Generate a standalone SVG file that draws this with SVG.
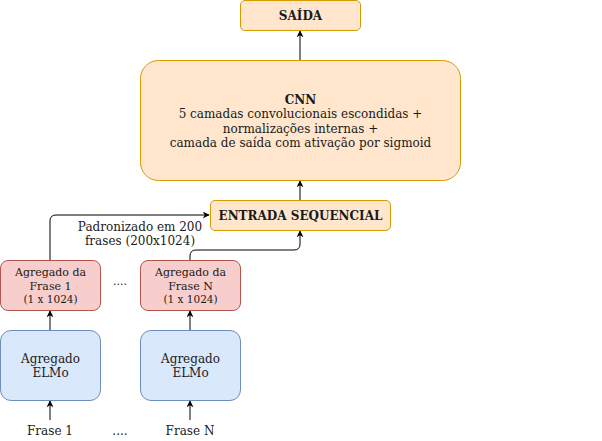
<svg xmlns="http://www.w3.org/2000/svg" width="602" height="441" viewBox="0 0 602 441">
<style>
text{font-family:"DejaVu Serif",serif;fill:#1a1a1a;text-anchor:middle}
.or{fill:#ffe6cc;stroke:#d79b00;stroke-width:1}
.rd{fill:#f8cecc;stroke:#b85450;stroke-width:1}
.bl{fill:#dae8fc;stroke:#6c8ebf;stroke-width:1}
.ln{fill:none;stroke:#000;stroke-width:1;marker-end:url(#ah)}
.b{font-weight:bold}
</style>
<defs>
<marker id="ah" viewBox="0 0 10 10" refX="9" refY="5" markerWidth="7" markerHeight="7" markerUnits="userSpaceOnUse" orient="auto">
<path d="M0,0 L10,5 L0,10 L3,5 Z" fill="#000"/>
</marker>
</defs>
<g id="connectors">
<path class="ln" d="M300,60 V31"/>
<path class="ln" d="M300,200 V181"/>
<path class="ln" d="M50,260 V221 Q50,215 56,215 H209"/>
<path class="ln" d="M190,260 V256 Q190,250 196,250 H294 Q300,250 300,244 V231"/>
<path class="ln" d="M50,330 V311"/>
<path class="ln" d="M190,330 V311"/>
<path class="ln" d="M50,420 V401"/>
<path class="ln" d="M190,420 V401"/>
<text x="140" y="231" font-size="12">Padronizado em 200</text>
<text x="140" y="245" font-size="12">frases (200x1024)</text>
</g>
<g id="saida">
<rect class="or" x="240.5" y="0.5" width="120" height="30" rx="4.5"/>
<text class="b" x="300.5" y="20" font-size="12">SAÍDA</text>
</g>
<g id="cnn">
<rect class="or" x="140.5" y="60.5" width="320" height="120" rx="18"/>
<text class="b" x="300.5" y="103.5" font-size="12">CNN</text>
<text x="300.5" y="118" font-size="12">5 camadas convolucionais escondidas +</text>
<text x="300.5" y="132.5" font-size="12">normalizações internas +</text>
<text x="300.5" y="147" font-size="12">camada de saída com ativação por sigmoid</text>
</g>
<g id="entrada">
<rect class="or" x="210.5" y="200.5" width="180" height="30" rx="4.5"/>
<text class="b" x="300.5" y="220" font-size="12">ENTRADA SEQUENCIAL</text>
</g>
<g id="agregado1">
<rect class="rd" x="0.5" y="260.5" width="100" height="50" rx="7.5"/>
<text x="50.5" y="275.5" font-size="11">Agregado da</text>
<text x="50.5" y="290" font-size="11">Frase 1</text>
<text x="50.5" y="303" font-size="10.5">(1 x 1024)</text>
</g>
<g id="agregadoN">
<rect class="rd" x="140.5" y="260.5" width="100" height="50" rx="7.5"/>
<text x="190.5" y="275.5" font-size="11">Agregado da</text>
<text x="190.5" y="290" font-size="11">Frase N</text>
<text x="190.5" y="303" font-size="10.5">(1 x 1024)</text>
</g>
<g id="dots1">
<text x="120" y="285" font-size="11">....</text>
</g>
<g id="elmo1">
<rect class="bl" x="0.5" y="330.5" width="100" height="70" rx="10.5"/>
<text x="50.5" y="363" font-size="12">Agregado</text>
<text x="50.5" y="377" font-size="12">ELMo</text>
</g>
<g id="elmoN">
<rect class="bl" x="140.5" y="330.5" width="100" height="70" rx="10.5"/>
<text x="190.5" y="363" font-size="12">Agregado</text>
<text x="190.5" y="377" font-size="12">ELMo</text>
</g>
<g id="frase1">
<text x="50" y="435" font-size="12">Frase 1</text>
</g>
<g id="dots2">
<text x="120" y="435" font-size="12">....</text>
</g>
<g id="fraseN">
<text x="190" y="435" font-size="12">Frase N</text>
</g>
</svg>
